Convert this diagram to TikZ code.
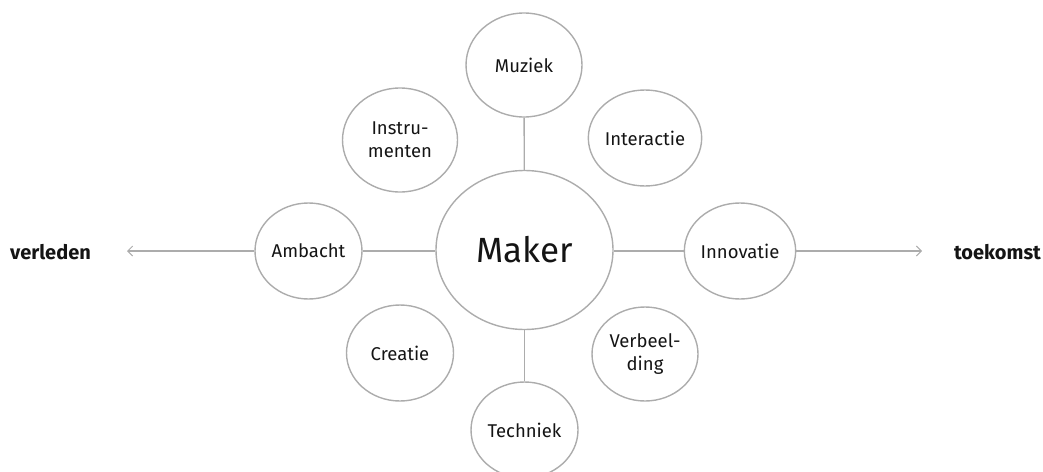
\documentclass[tikz,border=0pt]{standalone}
\usepackage{fontspec}
\setmainfont{Fira Sans}
\usetikzlibrary{shapes.geometric,arrows.meta}
\definecolor{linegray}{RGB}{172,172,172}
\definecolor{textblack}{RGB}{20,20,20}
\tikzset{
  bubble/.style={ellipse, draw=linegray, line width=1.4pt, inner sep=0pt, align=center,
    text=textblack, font=\fontsize{18.5}{23}\selectfont},
  small/.style={bubble, minimum width=107pt, minimum height=96pt},
  big/.style={bubble, minimum width=116pt, minimum height=104pt},
  conn/.style={draw=linegray, line width=1.4pt},
  arr/.style={conn, -{Straight Barb[length=5pt,width=10pt,line width=1pt]}},
  endlabel/.style={text=textblack, font=\fontsize{20}{24}\selectfont\bfseries, inner sep=0pt}
}
\begin{document}
\begin{tikzpicture}[x=1pt,y=-1pt]
\useasboundingbox (0,0) rectangle (1043,471);
\node[bubble, minimum width=177pt, minimum height=159pt, font=\fontsize{35}{40}\selectfont] (maker) at (524.5,250) {Maker};
\node[big] (muziek) at (524,65) {Muziek};
\node[small] (techniek) at (524.5,430) {Techniek};
\node[small] (ambacht) at (308.5,251) {Ambacht};
\node[small] (innovatie) at (740,251) {Innovatie};
\node[big, minimum width=115pt] (instrumenten) at (400,140) {Instru-\\menten};
\node[small, minimum width=106pt] (interactie) at (645,138) {Interactie};
\node[small] (creatie) at (400,353) {Creatie};
\node[small, minimum width=106pt, minimum height=94pt] (verbeelding) at (645,354) {Verbeel-\\ding};
\node[endlabel] (verleden) at (50.5,252) {verleden};
\node[endlabel] (toekomst) at (997.5,252) {toekomst};
\coordinate (pastend) at (127,251);
\coordinate (futureend) at (922,251);
\draw[conn] (maker) -- (muziek);
\draw[conn] (maker) -- (techniek);
\draw[conn] (ambacht.east) -- (maker.west |- ambacht.east);
\draw[conn] (innovatie.west) -- (maker.east |- innovatie.west);
\draw[arr] (ambacht.west) -- (pastend);
\draw[arr] (innovatie.east) -- (futureend);
\end{tikzpicture}
\end{document}
